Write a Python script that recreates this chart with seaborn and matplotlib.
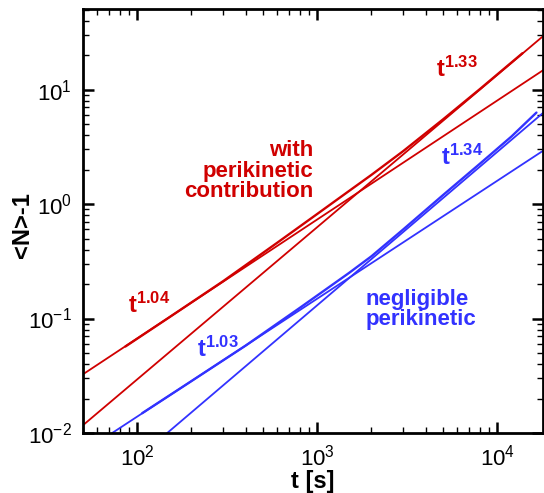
import numpy as np
import pandas as pd
import matplotlib
matplotlib.use("Agg")
import matplotlib.pyplot as plt
import seaborn as sns

# ---- data ----
# power-law fit lines (endpoints at axis limits)
fit_red1_t = [50, 18000]
fit_red1_n = [0.0326, 14.8]     # t^1.04
fit_red2_t = [50, 18000]
fit_red2_n = [0.0117, 29.4]     # t^1.33
fit_blue1_t = [72.6, 18000]
fit_blue1_n = [0.01, 2.93]      # t^1.03
fit_blue2_t = [146.8, 18000]
fit_blue2_n = [0.01, 6.28]      # t^1.34

# simulated curves
red_t = [86, 150, 300, 600, 1000, 1500, 2000, 3000, 5000, 8000, 13800]
red_n = [0.057, 0.102, 0.212, 0.46, 0.82, 1.3, 1.8, 2.9, 5.5, 10.1, 20.8]
blue_t = [106.6, 200, 400, 800, 1500, 2000, 3000, 5000, 8000, 12000, 16500]
blue_n = [0.0149, 0.0284, 0.058, 0.124, 0.25, 0.35, 0.6, 1.2, 2.25, 3.9, 6.3]

labels = ["t^{1.04}", "t^{1.33}", "t^{1.03}", "t^{1.34}"]

RED = "#d00000"
BLUE = "#3232ff"

sns.set_style("ticks")
plt.rcParams["font.family"] = ["Liberation Sans", "DejaVu Sans"]
plt.rcParams["mathtext.fontset"] = "custom"
plt.rcParams["mathtext.rm"] = "Liberation Sans"
plt.rcParams["mathtext.bf"] = "Liberation Sans:bold"
plt.rcParams["mathtext.it"] = "Liberation Sans:italic"
plt.rcParams["text.color"] = "black"
plt.rcParams["axes.labelcolor"] = "black"
plt.rcParams["xtick.color"] = "black"
plt.rcParams["ytick.color"] = "black"
plt.rcParams["axes.edgecolor"] = "black"

fig = plt.figure(figsize=(5.44, 4.93), dpi=100)
ax = fig.add_axes([0.1526, 0.1217, 0.846, 0.86])

def draw(t, n, color, lw):
    df = pd.DataFrame({"t": t, "n": n})
    sns.lineplot(data=df, x="t", y="n", ax=ax, color=color, lw=lw,
                 estimator=None, sort=False)

ax.set_xscale("log")
ax.set_yscale("log")

draw(fit_red1_t, fit_red1_n, RED, 1.3)
draw(fit_red2_t, fit_red2_n, RED, 1.3)
draw(fit_blue1_t, fit_blue1_n, BLUE, 1.3)
draw(fit_blue2_t, fit_blue2_n, BLUE, 1.3)
draw(red_t, red_n, RED, 1.7)
draw(blue_t, blue_n, BLUE, 1.7)

ax.set_xlim(50, 18000)
ax.set_ylim(0.01, 50.6)

for s in ax.spines.values():
    s.set_linewidth(2)
    s.set_visible(True)
    s.set_color("black")
ax.tick_params(which="both", direction="in", top=True, right=True,
               labelsize=16, pad=8, colors="black")
ax.tick_params(which="major", length=8, width=1.8)
ax.tick_params(which="minor", length=4, width=1.0)

ax.set_xlabel("t [s]", fontsize=17, fontweight="bold", labelpad=0)
ax.set_ylabel("<N>-1", fontsize=17, fontweight="bold")
ax.yaxis.set_label_coords(-0.107, 0.49)

def pw(x, y, lab, color):
    base, exp = lab.split("^")
    ax.text(x, y, r"$\mathbf{" + base + "}^{\\mathbf{" + exp.strip("{}") + "}}$",
            transform=ax.transAxes, color=color, fontsize=17,
            ha="left", va="baseline")

pw(0.098, 0.283, labels[0], RED)
pw(0.767, 0.840, labels[1], RED)
pw(0.248, 0.179, labels[2], BLUE)
pw(0.778, 0.632, labels[3], BLUE)

ax.text(0.50, 0.69, "with\nperikinetic\ncontribution", transform=ax.transAxes,
        color=RED, fontsize=16, fontweight="bold", ha="right", va="top",
        multialignment="right", linespacing=0.95)
ax.text(0.613, 0.34, "negligible\nperikinetic", transform=ax.transAxes,
        color=BLUE, fontsize=16, fontweight="bold", ha="left", va="top",
        multialignment="left", linespacing=0.95)

fig.savefig("out.png", dpi=100)
